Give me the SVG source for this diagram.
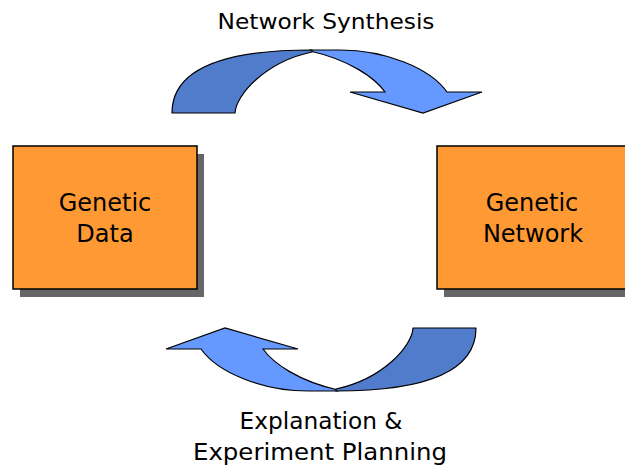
<svg xmlns="http://www.w3.org/2000/svg" width="625" height="473" viewBox="0 0 625 473">
  <style>
    .label { font-family: "DejaVu Sans", "Liberation Sans", sans-serif; fill: #000; text-anchor: middle; }
    .box { fill: #ff9933; stroke: #000; stroke-width: 1.5; }
    .shadow { fill: #666666; }
    .back { fill: #517bcb; stroke: #000; stroke-width: 1.2; stroke-linejoin: round; }
    .front { fill: #6699ff; stroke: #000; stroke-width: 1.2; stroke-linejoin: miter; }
  </style>
  <defs>
    <!-- curved arrow: darker back band on the left, lighter front band ending in the head -->
    <g id="curl">
      <path class="front" d="M310,50 L340,50 C385,50 430,68 447,92 L482,92 L423,113 L350,92 L385,92 C375,78 350,60 310,51 Z"/>
      <path class="back" d="M172,113 C172,70 220,50 312,50 L312,52 C265,62 236,95 235,113 Z"/>
    </g>
  </defs>
  <rect width="625" height="473" fill="#ffffff"/>

  <g id="connectors">
    <use href="#curl"/>
    <use href="#curl" transform="rotate(180 324 220.5)"/>
  </g>

  <g id="node-data">
    <rect class="shadow" x="20" y="154" width="184" height="143"/>
    <rect class="box" x="13" y="146" width="184" height="143"/>
    <text class="label" font-size="24" x="105" y="211">Genetic</text>
    <text class="label" font-size="24" x="105" y="242">Data</text>
  </g>

  <g id="node-network">
    <rect class="shadow" x="444" y="154" width="200" height="143"/>
    <rect class="box" x="437" y="146" width="200" height="143"/>
    <text class="label" font-size="24" x="532" y="211">Genetic</text>
    <text class="label" font-size="24" x="533" y="242">Network</text>
  </g>

  <g id="label-synthesis">
    <text class="label" font-size="22" x="326" y="29" textLength="217" lengthAdjust="spacingAndGlyphs">Network Synthesis</text>
  </g>

  <g id="label-explanation">
    <text class="label" font-size="23" x="321" y="429" textLength="163" lengthAdjust="spacingAndGlyphs">Explanation &amp;</text>
    <text class="label" font-size="23" x="320" y="460" textLength="254" lengthAdjust="spacingAndGlyphs">Experiment Planning</text>
  </g>
</svg>
